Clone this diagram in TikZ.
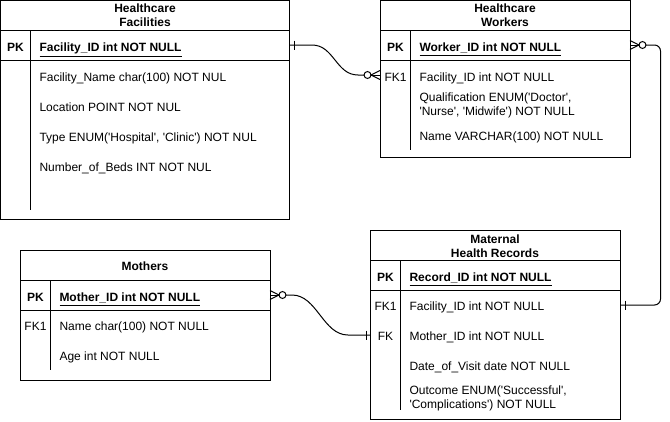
\documentclass[tikz,border=0pt]{standalone}
\usepackage{fontspec}
\setmainfont{Liberation Sans}[Ligatures=TeXOff]
\usetikzlibrary{calc}
\begin{document}
\begin{tikzpicture}[x=0.75pt,y=-0.75pt,line width=0.75pt,
  tbl/.style={draw,anchor=north west,inner sep=0pt,outer sep=0pt},
  txt/.style={font=\fontsize{9}{10.5}\selectfont,inner sep=0pt,anchor=base west},
  keylbl/.style={font=\fontsize{9}{10.5}\selectfont,inner sep=0pt,anchor=base},
  hdr/.style={font=\fontsize{9}{10.5}\selectfont\bfseries,inner sep=0pt,anchor=base},
  pkf/.style={txt,font=\fontsize{9}{10.5}\selectfont\bfseries},
  conn/.style={draw,line width=0.75pt},
  ermark/.style={line width=0.75pt}]
\useasboundingbox (0,0) rectangle (670,421);

% ---------- Healthcare Facilities ----------
\node[tbl,minimum width=217.1pt,minimum height=164.25pt] (fac) at (0.5,0.5) {};
\draw (0.5,30) -- (290,30);
\draw (0.5,60) -- (290,60);
\draw (30.5,30) -- (30.5,210);
\node[hdr] (facH1) at (145,12.5) {Healthcare};
\node[hdr] (facH2) at (145,26.5) {Facilities};
\node[keylbl,font=\fontsize{9}{10.5}\selectfont\bfseries] (facPK) at (15.5,51.5) {PK};
\node[pkf] (facPKf) at (39,51.5) {\underline{Facility\_ID int NOT NULL}};
\node[txt] (fac1) at (39,81) {Facility\_Name char(100) NOT NUL};
\node[txt] (fac2) at (39,111) {Location POINT NOT NUL};
\node[txt] (fac3) at (39,141) {Type ENUM('Hospital', 'Clinic') NOT NUL};
\node[txt] (fac4) at (39,171) {Number\_of\_Beds INT NOT NUL};

% ---------- Healthcare Workers ----------
\node[tbl,minimum width=187.5pt,minimum height=118.1pt] (wrk) at (380,0.5) {};
\draw (380,30) -- (630,30);
\draw (380,60) -- (630,60);
\draw (410.5,30) -- (410.5,150);
\node[hdr] (wrkH1) at (505,12.5) {Healthcare};
\node[hdr] (wrkH2) at (505,26.5) {Workers};
\node[keylbl,font=\fontsize{9}{10.5}\selectfont\bfseries] (wrkPK) at (395.5,51.5) {PK};
\node[pkf] (wrkPKf) at (419,51.5) {\underline{Worker\_ID int NOT NULL}};
\node[keylbl] (wrkFK) at (395.5,81) {FK1};
\node[txt] (wrk1) at (419,81) {Facility\_ID int NOT NULL};
\node[txt] (wrk2a) at (419,101.5) {Qualification ENUM('Doctor',};
\node[txt] (wrk2b) at (419,115.5) {'Nurse', 'Midwife') NOT NULL};
\node[txt] (wrk3) at (419,140) {Name VARCHAR(100) NOT NULL};

% ---------- Mothers ----------
\node[tbl,minimum width=187.5pt,minimum height=97.5pt] (mot) at (20,250) {};
\draw (20,280) -- (270,280);
\draw (20,310) -- (270,310);
\draw (50.5,280) -- (50.5,370);
\node[hdr] (motH) at (145,270) {Mothers};
\node[keylbl,font=\fontsize{9}{10.5}\selectfont\bfseries] (motPK) at (35.5,301.5) {PK};
\node[pkf] (motPKf) at (59,301.5) {\underline{Mother\_ID int NOT NULL}};
\node[keylbl] (motFK) at (35.5,330) {FK1};
\node[txt] (mot1) at (59,330) {Name char(100) NOT NULL};
\node[txt] (mot2) at (59,360) {Age int NOT NULL};

% ---------- Maternal Health Records ----------
\node[tbl,minimum width=187.5pt,minimum height=141.75pt] (rec) at (370,230) {};
\draw (370,260) -- (620,260);
\draw (370,290) -- (620,290);
\draw (400.5,260) -- (400.5,410);
\node[hdr] (recH1) at (495,243.5) {Maternal};
\node[hdr] (recH2) at (495,257.5) {Health Records};
\node[keylbl,font=\fontsize{9}{10.5}\selectfont\bfseries] (recPK) at (385.5,281.5) {PK};
\node[pkf] (recPKf) at (409,281.5) {\underline{Record\_ID int NOT NULL}};
\node[keylbl] (recFK1) at (385.5,310) {FK1};
\node[txt] (rec1) at (409,310) {Facility\_ID int NOT NULL};
\node[keylbl] (recFK) at (385.5,340) {FK};
\node[txt] (rec2) at (409,340) {Mother\_ID int NOT NULL};
\node[txt] (rec3) at (409,370) {Date\_of\_Visit date NOT NULL};
\node[txt] (rec4a) at (409,394.5) {Outcome ENUM('Successful',};
\node[txt] (rec4b) at (409,408.5) {'Complications') NOT NULL};

% ---------- connector end points ----------
\coordinate (p1s) at (290,45);
\coordinate (p1e) at (380,75);
\coordinate (p2s) at (630,45);
\coordinate (p2e) at (620,305);
\coordinate (p3s) at (270,295);
\coordinate (p3e) at (370,335);

% Facilities -> Workers (one to zero-or-many)
\draw[conn] (p1s) -- ($(p1s)+(22,0)$) .. controls ($(p1s)+(44,0)$) and ($(p1e)+(-44,0)$) .. ($(p1e)+(-22,0)$) -- ($(p1e)+(-16,0)$);
\draw[ermark] ($(p1s)+(4,-4.5)$) -- ($(p1s)+(4,4.5)$);
\draw[ermark] ($(p1e)+(-12.5,0)$) circle[radius=2.6pt];
\draw[ermark] ($(p1e)+(-9,0)$) -- ($(p1e)+(0,-4.5)$);
\draw[ermark] ($(p1e)+(-9,0)$) -- (p1e);
\draw[ermark] ($(p1e)+(-9,0)$) -- ($(p1e)+(0,4.5)$);

% Workers -> Records
\draw[conn,rounded corners=4.5pt] ($(p2s)+(16,0)$) -- ($(p2s)+(30.5,0)$) |- (p2e);
\draw[ermark] ($(p2s)+(12.5,0)$) circle[radius=2.6pt];
\draw[ermark] ($(p2s)+(9,0)$) -- ($(p2s)+(0,-4.5)$);
\draw[ermark] ($(p2s)+(9,0)$) -- (p2s);
\draw[ermark] ($(p2s)+(9,0)$) -- ($(p2s)+(0,4.5)$);
\draw[ermark] ($(p2e)+(5,-4.5)$) -- ($(p2e)+(5,4.5)$);

% Mothers -> Records
\draw[conn] ($(p3s)+(16,0)$) -- ($(p3s)+(22,0)$) .. controls ($(p3s)+(47,0)$) and ($(p3e)+(-47,0)$) .. ($(p3e)+(-22,0)$) -- (p3e);
\draw[ermark] ($(p3s)+(12.5,0)$) circle[radius=2.6pt];
\draw[ermark] ($(p3s)+(9,0)$) -- ($(p3s)+(0,-4.5)$);
\draw[ermark] ($(p3s)+(9,0)$) -- (p3s);
\draw[ermark] ($(p3s)+(9,0)$) -- ($(p3s)+(0,4.5)$);
\draw[ermark] ($(p3e)+(-4,-4.5)$) -- ($(p3e)+(-4,4.5)$);
\end{tikzpicture}
\end{document}
